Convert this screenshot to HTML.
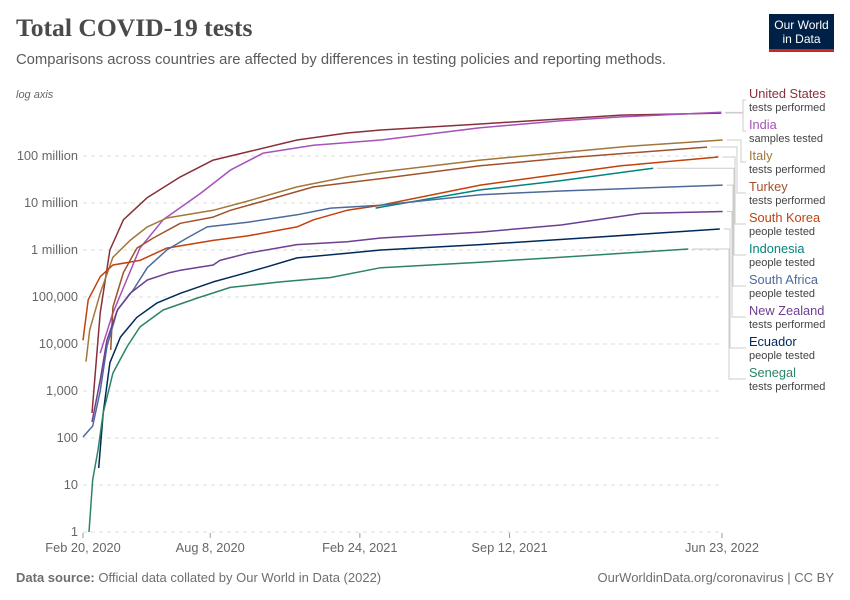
<!DOCTYPE html>
<html><head><meta charset="utf-8"><style>
body{margin:0;background:#fff;font-family:"Liberation Sans",sans-serif;}
#wrap{position:relative;width:850px;height:600px;overflow:hidden;}
.t{position:absolute;white-space:nowrap;}
</style></head><body>
<div id="wrap">
<div class="t" style="left:16px;top:13px;font-family:'Liberation Serif',serif;font-size:25.6px;font-weight:bold;color:#4a4a4a;">Total COVID-19 tests</div>
<div class="t" style="left:16px;top:52px;font-size:14.8px;color:#5b5b5b;">Comparisons across countries are affected by differences in testing policies and reporting methods.</div>
<div style="position:absolute;left:769px;top:14px;width:65px;height:38px;background:#002147;border-bottom:3px solid #ce261e;box-sizing:border-box;color:#fff;font-size:12px;line-height:14px;text-align:center;padding-top:4px;">Our World<br>in Data</div>
<svg id="chart" width="850" height="600" style="position:absolute;left:0;top:0"></svg>
<div class="t" style="left:16px;top:570px;font-size:13px;color:#6e6e6e;"><b>Data source:</b> Official data collated by Our World in Data (2022)</div>
<div class="t" style="right:16px;top:570px;font-size:13px;color:#6e6e6e;">OurWorldinData.org/coronavirus | CC BY</div>
</div>
<script>
const yTicks=[1,10,100,1000,10000,100000,1e6,1e7,1e8];
const yTickLabels=["1","10","100","1,000","10,000","100,000","1 million","10 million","100 million"];
const xTickDays=[0,170,370,570,854];
const xTickLabels=["Feb 20, 2020","Aug 8, 2020","Feb 24, 2021","Sep 12, 2021","Jun 23, 2022"];
const names=["United States","India","Italy","Turkey","South Korea","Indonesia","South Africa","New Zealand","Ecuador","Senegal"];
const metrics=["tests performed","samples tested","tests performed","tests performed","people tested","people tested","people tested","tests performed","people tested","tests performed"];
const colors=["#883039","#a652ba","#a2773a","#a0522d","#c2410c","#00847e","#4c6a9c","#6d3e91","#00295b","#2c8465"];
const usDays=[12,23,36,54,86,130,174,220,286,353,398,531,719,853];
const usVals=[340,46e3,1e6,4.4e6,13e6,36e6,82e6,122e6,219e6,309e6,357e6,480e6,740e6,820e6];
const inDays=[23,40,76,107,157,197,241,308,398,531,639,719,853];
const inVals=[6400,46e3,1.1e6,4.4e6,16e6,50e6,115e6,170e6,219e6,400e6,560e6,680e6,850e6];
const itDays=[4,9,23,40,63,86,112,174,220,286,353,398,531,728,855];
const itVals=[4200,20e3,120e3,700e3,1.6e6,3.1e6,4.8e6,7e6,11e6,22e6,36e6,46e6,82e6,160e6,219e6];
const trDays=[37,40,54,72,94,130,174,197,241,308,398,531,639,834];
const trVals=[7500,61e3,330e3,1.1e6,1.8e6,3.7e6,5e6,7e6,11e6,22e6,33e6,62e6,90e6,155e6];
const krDays=[0,7,23,40,76,112,174,220,286,308,353,398,531,719,849];
const krVals=[12e3,87e3,270e3,480e3,600e3,1.1e6,1.6e6,2e6,3.1e6,4.4e6,7e6,9e6,24e6,62e6,95e6];
const idDays=[391,531,639,762];
const idVals=[7.8e6,19e6,30e6,55e6];
const zaDays=[0,13,23,32,46,67,86,112,139,166,220,286,331,398,531,639,855];
const zaVals=[105,180,1000,8800,53e3,140e3,420e3,1e6,1.8e6,3.1e6,3.9e6,5.6e6,7.8e6,9e6,15e6,18e6,24e6];
const nzDays=[12,23,32,46,63,86,116,130,174,183,220,286,353,398,531,639,746,855];
const nzVals=[220,1700,12e3,53e3,120e3,230e3,330e3,370e3,480e3,600e3,850e3,1.3e6,1.5e6,1.8e6,2.4e6,3.4e6,6e6,6.6e6];
const ecDays=[21,27,36,50,72,99,130,174,206,246,286,353,398,531,692,851];
const ecVals=[23,340,4000,14e3,37e3,75e3,120e3,210e3,290e3,440e3,680e3,850e3,1e6,1.3e6,1.9e6,2.8e6];
const snDays=[8,13,20,27,40,59,76,107,153,197,264,331,398,531,639,809];
const snVals=[1,13,55,340,2400,8800,23e3,53e3,95e3,160e3,210e3,260e3,420e3,550e3,700e3,1.05e6];
const seriesDays=[usDays,inDays,itDays,trDays,krDays,idDays,zaDays,nzDays,ecDays,snDays];
const seriesVals=[usVals,inVals,itVals,trVals,krVals,idVals,zaVals,nzVals,ecVals,snVals];

const NS="http://www.w3.org/2000/svg";
const svg=document.getElementById('chart');
const X0=83,X1=722,Y0=532,DEC=47;
function xs(d){return X0+(X1-X0)*d/854;}
function ys(v){return Y0-DEC*Math.log10(v);}
function mk(tag,attrs,parent){const e=document.createElementNS(NS,tag);for(const k in attrs)e.setAttribute(k,attrs[k]);(parent||svg).appendChild(e);return e;}

const axisLbl=mk('text',{x:16,y:98,'font-size':11,'font-style':'italic',fill:'#666','font-family':'Liberation Sans, sans-serif'});
axisLbl.textContent='log axis';



yTicks.forEach((v,i)=>{
  const y=ys(v);
  if(i>0){const g=mk('line',{x1:X0,x2:X1,y1:y,y2:y,stroke:'#ddd','stroke-dasharray':'4,4'});
  
  }
  const t=mk('text',{x:78,y:y+4,'text-anchor':'end','font-size':12.8,fill:'#666','font-family':'Liberation Sans, sans-serif'});
  t.textContent=yTickLabels[i];
  
  
});
const base=mk('line',{x1:X0,x2:X1,y1:Y0,y2:Y0,stroke:'#ddd','stroke-dasharray':'4,4'});


xTickDays.forEach((d,i)=>{
  const x=xs(d);
  const tk=mk('line',{x1:x,x2:x,y1:533,y2:538,stroke:'#999'});
  
  
  const t=mk('text',{x:x,y:552,'text-anchor':'middle','font-size':12.8,fill:'#666','font-family':'Liberation Sans, sans-serif'});
  t.textContent=xTickLabels[i];
  
  
});
const bx=[743,743,741,737,735,734,733,732,730,729];
names.forEach((n,i)=>{
  const d=seriesDays[i],v=seriesVals[i];
  const pts=d.map((dd,j)=>xs(dd).toFixed(1)+','+ys(v[j]).toFixed(1)).join(' ');
  const pl=mk('polyline',{points:pts,fill:'none',stroke:colors[i],'stroke-width':1.5,'stroke-linejoin':'round'});
  
  
  const ex=xs(d[d.length-1])+4,ey=ys(v[v.length-1]);
  const ly=100+31*i;
  const c=mk('polyline',{points:`${ex},${ey} ${bx[i]},${ey} ${bx[i]},${ly} ${746},${ly}`,fill:'none',stroke:'#ccc','stroke-width':1});
  
  
  const t1=mk('text',{x:749,y:ly-2,'font-size':12.8,fill:colors[i],'font-family':'Liberation Sans, sans-serif'});
  t1.textContent=n;
  
  
  const t2=mk('text',{x:749,y:ly+11,'font-size':11,fill:'#444','font-family':'Liberation Sans, sans-serif'});
  t2.textContent=metrics[i];
  
  
});
</script>
</body></html>
